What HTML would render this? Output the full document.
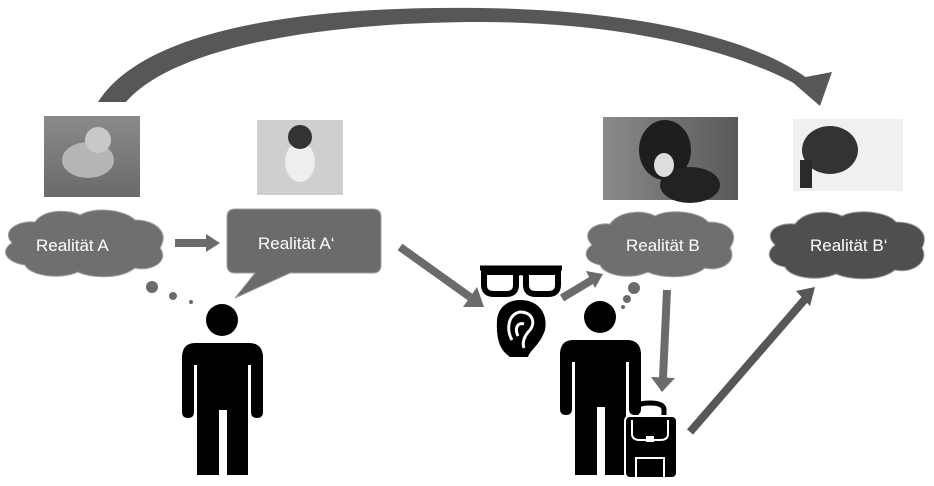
<!DOCTYPE html>
<html><head><meta charset="utf-8"><style>body{margin:0;background:#fff}svg{display:block}text{font-family:"Liberation Sans",sans-serif;fill:#fff;font-size:17px}</style></head><body>
<svg width="934" height="486" viewBox="0 0 934 486">
<defs>
<linearGradient id="p1" x1="0" y1="0" x2="0" y2="1"><stop offset="0" stop-color="#8a8a8a"/><stop offset="1" stop-color="#6a6a6a"/></linearGradient>
<linearGradient id="p3" x1="0" y1="0" x2="1" y2="0"><stop offset="0" stop-color="#8a8a8a"/><stop offset="1" stop-color="#5a5a5a"/></linearGradient>
</defs>
<path d="M98,102 C150,20 340,6 480,8 C640,10 760,40 812,82 L806,90 C740,50 620,22 480,22 C350,22 180,40 126,102 Z" fill="#575757"/>
<polygon points="790,80 832,72 820,106" fill="#575757"/>
<rect x="44" y="116" width="96" height="81" fill="url(#p1)"/>
<ellipse cx="88" cy="160" rx="26" ry="18" fill="#b5b5b5"/><circle cx="98" cy="140" r="13" fill="#c8c8c8"/>
<rect x="257" y="120" width="86" height="75" fill="#cfcfcf"/>
<ellipse cx="300" cy="162" rx="15" ry="20" fill="#eee"/><circle cx="300" cy="137" r="12" fill="#333"/>
<rect x="603" y="117" width="135" height="83" fill="url(#p3)"/>
<ellipse cx="665" cy="150" rx="26" ry="30" fill="#1e1e1e"/><ellipse cx="690" cy="185" rx="30" ry="18" fill="#222"/><ellipse cx="664" cy="165" rx="10" ry="12" fill="#ddd"/>
<rect x="793" y="119" width="110" height="72" fill="#f0f0f0"/>
<ellipse cx="830" cy="150" rx="28" ry="24" fill="#333"/><rect x="800" y="160" width="12" height="28" fill="#2a2a2a"/>
<path d="M12,243 C0,230 20,220 35,222 C45,208 70,210 80,215 C95,206 125,210 135,220 C155,220 170,232 160,248 C170,262 150,272 135,268 C120,280 90,278 78,272 C60,280 30,276 25,265 C5,262 0,250 12,243 Z" fill="#6f6f6f" stroke="#a0a0a0"/>
<text x="36" y="251">Realität A</text>
<polygon points="175,239 206,239 206,234 220,243 206,252 206,247 175,247" fill="#6b6b6b"/>
<path d="M235,209 H373 Q381,209 381,217 V265 Q381,273 373,273 H290 L235,298 L255,273 H235 Q227,273 227,265 V217 Q227,209 235,209 Z" fill="#6b6b6b" stroke="#a0a0a0"/>
<text x="258" y="249">Realität A‘</text>
<circle cx="152" cy="287" r="6" fill="#6b6b6b"/><circle cx="173" cy="296" r="4" fill="#6b6b6b"/><circle cx="191" cy="302" r="2" fill="#6b6b6b"/>
<circle cx="222" cy="320" r="16" fill="#000"/>
<path d="M195,343 H249 Q262,343 263,356 L263,412 Q263,418 257,418 Q251,418 251,412 V365 H248 V475 H227 V410 H219 V475 H197 V365 H194 V412 Q194,418 188,418 Q182,418 182,412 V356 Q183,343 195,343 Z" fill="#000"/>
<line x1="400" y1="247" x2="470" y2="297" stroke="#6b6b6b" stroke-width="8"/>
<polygon points="463,307 484,307 477,287" fill="#6b6b6b"/>
<g fill="none" stroke="#000" stroke-width="6">
<path d="M484,272 H516 V285 Q516,294 506,294 H494 Q484,294 484,285 Z"/>
<path d="M526,272 H558 V285 Q558,294 548,294 H536 Q526,294 526,285 Z"/>
<path d="M516,274 Q521,270 526,274"/>
</g>
<line x1="480" y1="268" x2="562" y2="268" stroke="#000" stroke-width="5"/>
<path d="M520,300 C540,300 548,315 545,330 C540,345 530,350 528,357 L510,357 C500,350 496,340 497,320 C498,308 507,300 520,300 Z" fill="#000"/>
<path d="M512,340 C506,330 508,314 520,312 C532,312 536,322 530,330 C524,336 522,343 524,348" fill="none" stroke="#fff" stroke-width="3"/>
<path d="M518,336 C514,328 518,322 524,324" fill="none" stroke="#fff" stroke-width="3"/>
<line x1="562" y1="298" x2="592" y2="280" stroke="#6b6b6b" stroke-width="8"/>
<polygon points="586,271 603,274 595,288" fill="#6b6b6b"/>
<path d="M592,245 C580,232 595,222 610,224 C620,210 645,210 655,216 C670,208 700,212 708,222 C728,222 740,232 730,248 C738,262 720,272 705,268 C690,280 660,278 648,272 C630,280 605,276 600,265 C585,262 582,252 592,245 Z" fill="#6f6f6f" stroke="#a0a0a0"/>
<text x="626" y="251">Realität B</text>
<circle cx="634" cy="288" r="6" fill="#6b6b6b"/><circle cx="627" cy="299" r="4" fill="#6b6b6b"/><circle cx="623" cy="307" r="2" fill="#6b6b6b"/>
<path d="M775,245 C762,232 778,222 795,224 C805,210 830,210 842,216 C858,208 888,212 896,222 C916,222 930,232 922,248 C930,262 912,274 895,270 C880,282 850,280 836,274 C818,282 790,278 785,267 C768,264 765,252 775,245 Z" fill="#4f4f4f" stroke="#a0a0a0"/>
<text x="810" y="251">Realität B‘</text>
<line x1="667" y1="290" x2="663" y2="378" stroke="#6b6b6b" stroke-width="8"/>
<polygon points="651,377 675,378 662,392" fill="#6b6b6b"/>
<circle cx="600" cy="317" r="16" fill="#000"/>
<path d="M573,340 H627 Q640,340 641,353 L641,409 Q641,415 635,415 Q629,415 629,409 V362 H626 V475 H605 V407 H597 V475 H575 V362 H572 V409 Q572,415 566,415 Q560,415 560,409 V353 Q561,340 573,340 Z" fill="#000"/>
<path d="M636,418 V410 Q636,403 650,403 Q664,403 664,410 V418" fill="none" stroke="#000" stroke-width="5"/>
<rect x="625" y="416" width="52" height="62" rx="5" fill="#000" stroke="#fff" stroke-width="2"/>
<path d="M632,420 V434 Q632,440 640,440 H660 Q668,440 668,434 V420" fill="none" stroke="#fff" stroke-width="2"/>
<rect x="646" y="436" width="8" height="6" fill="#fff"/>
<rect x="636" y="458" width="28" height="20" fill="none" stroke="#fff" stroke-width="2"/>
<line x1="690" y1="432" x2="806" y2="298" stroke="#575757" stroke-width="8"/>
<polygon points="796,291 815,287 810,306" fill="#575757"/>
</svg>
</body></html>
